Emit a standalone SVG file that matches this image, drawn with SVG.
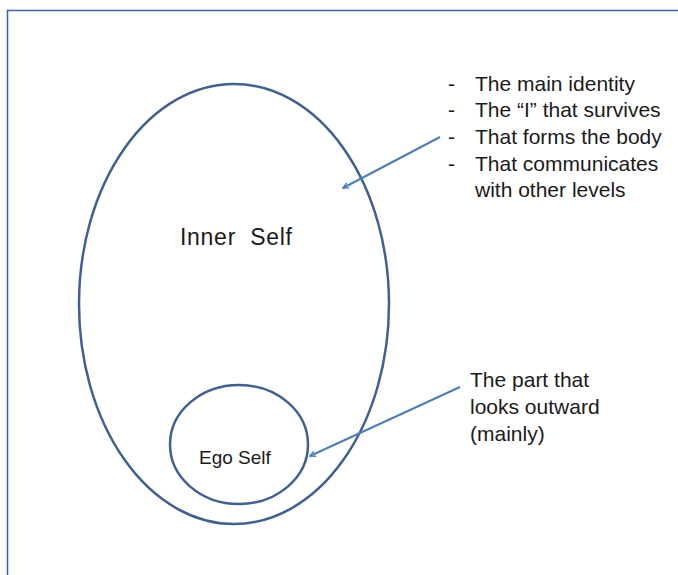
<svg xmlns="http://www.w3.org/2000/svg" width="678" height="575" viewBox="0 0 678 575">
<defs>
<style>
.shape{fill:none;stroke:#3f6094;stroke-width:2.5}
.conn{fill:none;stroke:#4a7ebb;stroke-width:2}
.t{font-family:"Liberation Sans",Arial,sans-serif;fill:#1a1a1a}
</style>
<marker id="arr" viewBox="0 0 10 10" refX="9" refY="5" markerWidth="7" markerHeight="7" orient="auto" markerUnits="userSpaceOnUse">
<path d="M1,1 L9,5 L1,9" fill="none" stroke="#4a7ebb" stroke-width="2"/>
</marker>
</defs>
<rect width="678" height="575" fill="#ffffff"/>
<path d="M7.5,575 V10.5 H678" fill="none" stroke="#3f5fae" stroke-width="1.5"/>
<g id="inner-self">
<ellipse class="shape" cx="234" cy="304" rx="155" ry="220"/>
<text class="t" x="180" y="245" font-size="23" textLength="112" xml:space="preserve">Inner  Self</text>
</g>
<g id="ego-self">
<ellipse class="shape" cx="239" cy="444.5" rx="69" ry="59.5"/>
<text class="t" x="199" y="464" font-size="19">Ego Self</text>
</g>
<g id="inner-notes">
<text class="t" font-size="21">
<tspan x="448" y="91">-</tspan><tspan x="475" y="91">The main identity</tspan>
<tspan x="448" y="117">-</tspan><tspan x="475" y="117">The “I” that survives</tspan>
<tspan x="448" y="144">-</tspan><tspan x="475" y="144">That forms the body</tspan>
<tspan x="448" y="171">-</tspan><tspan x="475" y="171">That communicates</tspan>
<tspan x="475" y="197">with other levels</tspan>
</text>
</g>
<g id="ego-notes">
<text class="t" font-size="21">
<tspan x="470" y="387">The part that</tspan>
<tspan x="470" y="414">looks outward</tspan>
<tspan x="470" y="441">(mainly)</tspan>
</text>
</g>
<g id="connectors">
<line class="conn" x1="440" y1="137" x2="343" y2="188" marker-end="url(#arr)"/>
<line class="conn" x1="460" y1="387" x2="310" y2="456" marker-end="url(#arr)"/>
</g>
</svg>
